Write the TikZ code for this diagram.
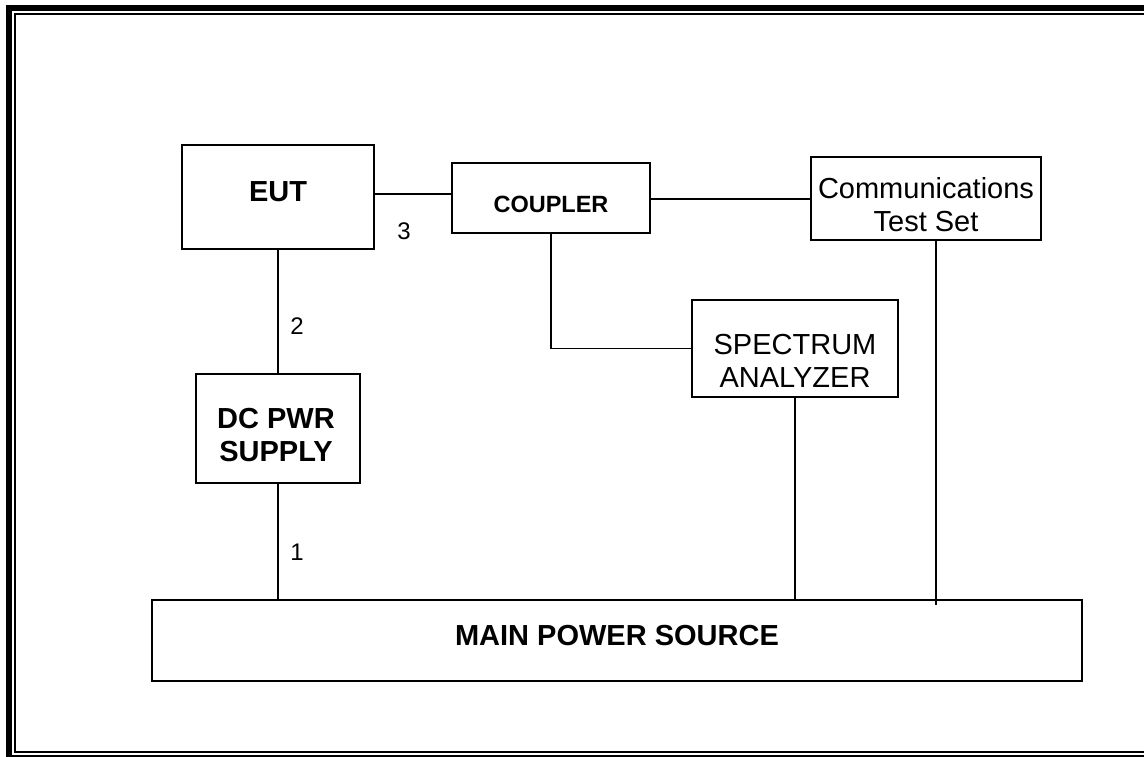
\documentclass[tikz,border=0pt]{standalone}
\usepackage{fontspec}
\setmainfont{Liberation Sans}
\begin{document}
\begin{tikzpicture}[x=1pt,y=-1pt,
  box/.style={draw, line width=1.6pt, inner sep=0pt},
  wire/.style={line width=1.3pt},
  bigb/.style={font=\fontsize{29}{34}\selectfont\bfseries, inner sep=0pt, anchor=base},
  bigr/.style={font=\fontsize{29}{34}\selectfont, inner sep=0pt, anchor=base},
  midb/.style={font=\fontsize{23.5}{28}\selectfont\bfseries, inner sep=0pt, anchor=base},
  num/.style={font=\fontsize{24}{28}\selectfont, inner sep=0pt, anchor=base}]
\useasboundingbox (0,0) rectangle (1144,757);
\clip (0,0) rectangle (1144,757);
% frame
\draw[line width=6pt] (9,8) rectangle (1160,758);
\draw[line width=2pt] (15,14) rectangle (1160,752);
% boxes
\node[box, minimum width=192, minimum height=104] (eut) at (278,197) {};
\node[box, minimum width=198, minimum height=70] (coupler) at (551,198) {};
\node[box, minimum width=230, minimum height=83] (comm) at (926,198.5) {};
\node[box, minimum width=206, minimum height=97] (spec) at (795,348.5) {};
\node[box, minimum width=164, minimum height=109] (dc) at (278,428.5) {};
\node[box, minimum width=930, minimum height=81] (main) at (617,640.5) {};
% texts
\node[bigb] (eutT) at (278,201) {EUT};
\node[midb] (coupT) at (551,212) {COUPLER};
\node[bigr] (commT1) at (926,199) {Communications};
\node[bigr] (commT2) at (926,232) {Test Set};
\node[bigr] (specT1) at (795,354) {SPECTRUM};
\node[bigr] (specT2) at (795,387) {ANALYZER};
\node[bigb] (dcT1) at (276,428.5) {DC PWR};
\node[bigb] (dcT2) at (276,461.7) {SUPPLY};
\node[bigb] (mainT) at (617,645) {MAIN POWER SOURCE};
\node[num] (n3) at (404,240) {3};
\node[num] (n2) at (297,334) {2};
\node[num] (n1) at (297,560) {1};
% wires
\draw[wire] ([yshift=3pt]eut.east) -- ([yshift=3pt]eut.east -| coupler.west);
\draw[wire] ([yshift=-1pt]coupler.east) -- ([yshift=-1pt]coupler.east -| comm.west);
\draw[wire] (coupler.south) |- (spec.west);
\draw[wire] (eut.south) -- (dc.north);
\draw[wire] (dc.south) -- (dc.south |- main.north);
\draw[wire] (spec.south) -- (spec.south |- main.north);
\coordinate (commdrop) at (936,605);
\draw[wire] (comm.south -| commdrop) -- (commdrop);
\end{tikzpicture}
\end{document}
